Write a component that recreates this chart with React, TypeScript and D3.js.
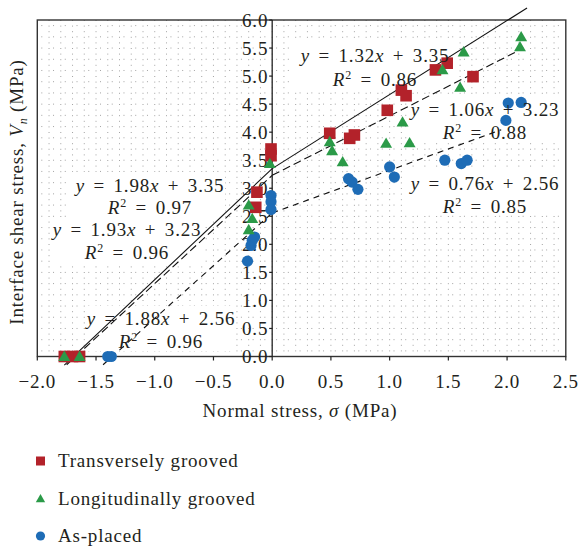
import * as d3 from 'd3';

// Transversely grooved (red squares)
const transverseX = [-1.77, -1.7, -1.64, -0.13, -0.14, -0.01, -0.01, 0.49, 0.66, 0.7, 0.98, 1.1, 1.14, 1.39, 1.49, 1.71];
const transverseY = [0, 0, 0, 2.93, 2.66, 3.7, 3.58, 3.98, 3.89, 3.95, 4.39, 4.75, 4.65, 5.11, 5.23, 4.99];

// Longitudinally grooved (green triangles)
const longitudinalX = [-1.77, -1.64, -0.2, -0.17, -0.2, -0.02, 0.49, 0.51, 0.6, 0.97, 1.11, 1.17, 1.45, 1.6, 1.63, 2.11, 2.12];
const longitudinalY = [0, 0, 2.7, 2.46, 2.26, 3.44, 3.83, 3.67, 3.47, 3.8, 4.18, 3.81, 5.11, 4.8, 5.43, 5.52, 5.7];

// As-placed (blue circles)
const asPlacedX = [-1.4, -1.37, -0.21, -0.18, -0.17, -0.15, -0.01, -0.01, -0.01, 0.65, 0.68, 0.73, 1.0, 1.04, 1.47, 1.61, 1.66, 1.99, 2.01, 2.12];
const asPlacedY = [0, 0, 1.7, 1.98, 2.07, 2.13, 2.87, 2.76, 2.62, 3.17, 3.11, 2.98, 3.38, 3.2, 3.5, 3.44, 3.5, 4.21, 4.52, 4.53];

// linear fits: [slope, intercept, xFrom, xTo]
const transverseFits = [[1.98, 3.35, -1.77, 0], [1.32, 3.35, 0, 2.17]];
const longitudinalFits = [[1.93, 3.23, -1.75, 0], [1.06, 3.23, 0, 2.09]];
const asPlacedFits = [[1.88, 2.56, -1.44, 0], [0.76, 2.56, 0, 1.95]];

const xTicks = [-2, -1.5, -1, -0.5, 0, 0.5, 1, 1.5, 2, 2.5];
const yTicks = [0, 0.5, 1, 1.5, 2, 2.5, 3, 3.5, 4, 4.5, 5, 5.5, 6];
const legendLabels = ['Transversely grooved', 'Longitudinally grooved', 'As-placed'];

const RED = '#b3222a';
const GREEN = '#2b9a48';
const BLUE = '#1e6cb6';
const FONT = '"Liberation Serif", "DejaVu Serif", serif';

// equation labels, with the white box each one sits on
const notes: { eq: [string, string]; r2: string; cx: number; y1: number; y2: number; box: [number, number, number, number] }[] = [
  { eq: ['1.32', '3.35'], r2: '0.86', cx: 375, y1: 62, y2: 86, box: [294, 42, 162, 50] },
  { eq: ['1.06', '3.23'], r2: '0.88', cx: 485, y1: 116, y2: 139, box: [410, 97, 150, 46] },
  { eq: ['0.76', '2.56'], r2: '0.85', cx: 485, y1: 190, y2: 213, box: [403, 168, 163, 47] },
  { eq: ['1.98', '3.35'], r2: '0.97', cx: 150, y1: 192, y2: 214, box: [72, 172, 153, 46] },
  { eq: ['1.93', '3.23'], r2: '0.96', cx: 127, y1: 236, y2: 259, box: [50, 218, 155, 45] },
  { eq: ['1.88', '2.56'], r2: '0.96', cx: 161, y1: 325, y2: 348, box: [86, 306, 150, 45] },
];

export default function App() {
  const x = d3.scaleLinear().domain([-2, 2.5]).range([37.3, 565.8]);
  const y = d3.scaleLinear().domain([0, 6]).range([356.5, 20]);
  const fmt = d3.format('.1f');

  const fitPath = (f: number[]) =>
    d3.line<number>().x((v) => x(v)).y((v) => y(f[0] * v + f[1]))([f[2], f[3]]) as string;

  const xGrid = d3.range(-19, 25).map((i) => i / 10);
  const yGrid = d3.range(1, 60, 2).map((i) => i / 10);

  const tri = d3.symbol(d3.symbolTriangle, 62)() as string;
  const triSmall = d3.symbol(d3.symbolTriangle, 38)() as string;

  const textStyle = { fontFamily: FONT, fontSize: 19, letterSpacing: 0.8, fill: '#231f20' } as const;

  return (
    <svg width={579} height={548} style={{ position: 'absolute', left: 0, top: 0, background: '#fff' }}>
      {/* dotted grid */}
      <g stroke="#a3a3a3" strokeWidth={1}>
        {xGrid.map((v) => (
          <line key={'gx' + v} x1={x(v)} x2={x(v)} y1={y(6)} y2={y(0)} strokeDasharray="1,4.6" />
        ))}
        {yGrid.map((v) => (
          <line key={'gy' + v} x1={x(-2) + 4} x2={x(2.5)} y1={y(v)} y2={y(v)} strokeDasharray="1,10.74" />
        ))}
      </g>

      {/* white annotation boxes */}
      {notes.map((n, i) => (
        <rect key={'b' + i} x={n.box[0]} y={n.box[1]} width={n.box[2]} height={n.box[3]} fill="#fff" />
      ))}

      {/* frame */}
      <rect x={x(-2)} y={y(6)} width={x(2.5) - x(-2)} height={y(0) - y(6)} fill="none" stroke="#333" strokeWidth={1.4} />
      <line x1={x(0)} x2={x(0)} y1={y(0)} y2={y(6)} stroke="#222" strokeWidth={1.3} />

      {/* ticks */}
      {xTicks.map((t) => (
        <g key={'xt' + t}>
          <line x1={x(t)} x2={x(t)} y1={y(0)} y2={y(0) + 4} stroke="#222" strokeWidth={1.2} />
          <text x={x(t)} y={y(0) + 31} textAnchor="middle" {...textStyle}>{fmt(t)}</text>
        </g>
      ))}
      {yTicks.map((t) => (
        <g key={'yt' + t}>
          <line x1={x(0) - 3} x2={x(0)} y1={y(t)} y2={y(t)} stroke="#222" strokeWidth={1.2} />
          <text x={x(0) - 4} y={y(t) + 6.5} textAnchor="end" {...textStyle}>{fmt(t)}</text>
        </g>
      ))}

      {/* fit lines */}
      <g fill="none" stroke="#111" strokeWidth={1.1}>
        {transverseFits.map((f, i) => <path key={'tf' + i} d={fitPath(f)} />)}
        {longitudinalFits.map((f, i) => <path key={'lf' + i} d={fitPath(f)} strokeDasharray="8,4" />)}
        {asPlacedFits.map((f, i) => <path key={'af' + i} d={fitPath(f)} strokeDasharray="6,5" />)}
      </g>

      {/* points */}
      {asPlacedX.map((v, i) => (
        <circle key={'ap' + i} cx={x(v)} cy={y(asPlacedY[i])} r={5.6} fill={BLUE} />
      ))}
      {transverseX.map((v, i) => (
        <rect key={'tp' + i} x={x(v) - 5.8} y={y(transverseY[i]) - 5.8} width={11.6} height={11.6} fill={RED} />
      ))}
      {longitudinalX.map((v, i) => (
        <path key={'lp' + i} d={tri} transform={`translate(${x(v)},${y(longitudinalY[i]) + 1})`} fill={GREEN} />
      ))}

      {/* equations */}
      {notes.map((n, i) => (
        <g key={'n' + i} {...textStyle} textAnchor="middle" style={{ wordSpacing: 3 }}>
          <text x={n.cx} y={n.y1}>
            <tspan fontStyle="italic">y</tspan> = {n.eq[0]}<tspan fontStyle="italic">x</tspan> + {n.eq[1]}
          </text>
          <text x={n.cx} y={n.y2}>
            <tspan fontStyle="italic">R</tspan><tspan fontSize={12} dy={-7}>2</tspan><tspan dy={7}> = {n.r2}</tspan>
          </text>
        </g>
      ))}

      {/* axis titles */}
      <text x={300} y={417} textAnchor="middle" {...textStyle}>
        Normal stress, <tspan fontStyle="italic">σ</tspan> (MPa)
      </text>
      <text transform="translate(23,192) rotate(-90)" textAnchor="middle" {...textStyle}>
        Interface shear stress, <tspan fontStyle="italic">V</tspan><tspan fontStyle="italic" fontSize={12} dy={4}>n</tspan><tspan dy={-4}> (MPa)</tspan>
      </text>

      {/* legend */}
      {legendLabels.map((label, i) => {
        const ly = 461 + i * 37.5;
        return (
          <g key={'lg' + i}>
            {i === 0 && <rect x={36} y={ly - 4.5} width={9} height={9} fill={RED} />}
            {i === 1 && <path d={triSmall} transform={`translate(40.5,${ly + 1})`} fill={GREEN} />}
            {i === 2 && <circle cx={40.5} cy={ly} r={4.6} fill={BLUE} />}
            <text x={58} y={ly + 6} {...textStyle}>{label}</text>
          </g>
        );
      })}
    </svg>
  );
}
